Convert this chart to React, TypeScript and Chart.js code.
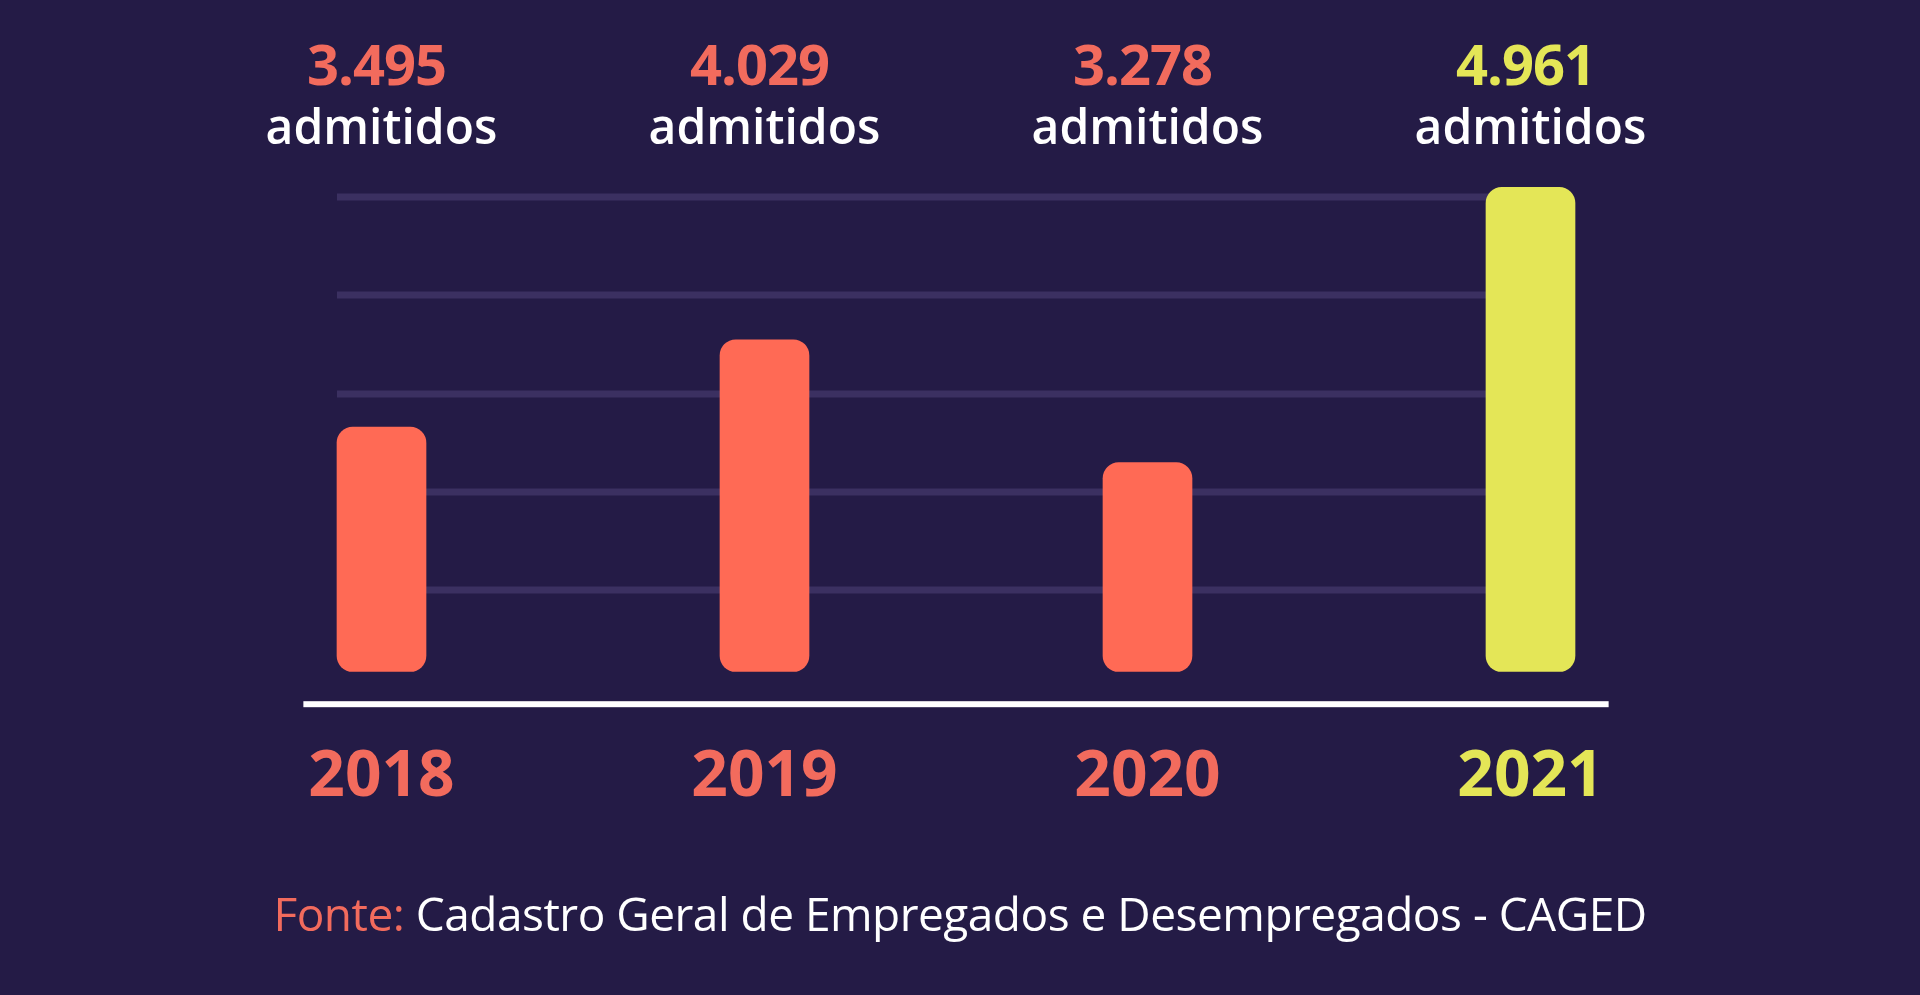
import { useEffect, useRef } from "react";
import { Chart, registerables } from "chart.js";

Chart.register(...registerables);

const years = ["2018", "2019", "2020", "2021"];
const admitidos = [3495, 4029, 3278, 4961];
const valueLabels = ["3.495", "4.029", "3.278", "4.961"];
const unitLabel = "admitidos";
const gridValues = [2500, 3100, 3700, 4300, 4900];
const sourcePrefix = "Fonte:";
const sourceText = " Cadastro Geral de Empregados e Desempregados - CAGED";

const BG = "#241b46";
const CORAL_BAR = "#ff6a55";
const CORAL_TEXT = "#f26b5d";
const YELLOW = "#e4e657";
const barColors = [CORAL_BAR, CORAL_BAR, CORAL_BAR, YELLOW];
const textColors = [CORAL_TEXT, CORAL_TEXT, CORAL_TEXT, YELLOW];
const FONT = "'Open Sans', 'DejaVu Sans', sans-serif";

export default function App() {
  const ref = useRef<HTMLCanvasElement | null>(null);

  useEffect(() => {
    const canvas = ref.current;
    if (!canvas) return;

    const bgPlugin = {
      id: "bg",
      beforeDraw(chart: any) {
        const { ctx, width, height } = chart;
        ctx.save();
        ctx.fillStyle = BG;
        ctx.fillRect(0, 0, width, height);
        ctx.restore();
      },
    };

    const gridPlugin = {
      id: "customGrid",
      beforeDatasetsDraw(chart: any) {
        const { ctx } = chart;
        const y = chart.scales.y;
        const meta = chart.getDatasetMeta(0);
        const first = meta.data[0];
        const last = meta.data[meta.data.length - 1];
        const x0 = first.x - first.width / 2;
        const x1 = last.x;
        ctx.save();
        ctx.strokeStyle = "rgba(120, 104, 170, 0.28)";
        ctx.lineWidth = 7;
        gridValues.forEach((v) => {
          const py = Math.round(y.getPixelForValue(v));
          ctx.beginPath();
          ctx.moveTo(x0, py);
          ctx.lineTo(x1, py);
          ctx.stroke();
        });
        ctx.restore();
      },
    };

    const axisPlugin = {
      id: "axisLine",
      afterDatasetsDraw(chart: any) {
        const { ctx, chartArea } = chart;
        const x = chart.scales.x;
        const cw = x.width / years.length;
        const x0 = x.getPixelForValue(0) - cw * 0.204;
        const x1 = x.getPixelForValue(years.length - 1) + cw * 0.204;
        ctx.save();
        ctx.fillStyle = "#ffffff";
        ctx.fillRect(x0, chartArea.bottom - 3, x1 - x0, 6);
        ctx.restore();
      },
    };

    const labelsPlugin = {
      id: "topLabels",
      afterDraw(chart: any) {
        const { ctx, chartArea } = chart;
        const x = chart.scales.x;
        ctx.save();
        ctx.textAlign = "center";
        ctx.textBaseline = "alphabetic";
        years.forEach((_, i) => {
          const cx = x.getPixelForValue(i);
          ctx.fillStyle = textColors[i];
          ctx.font = `700 56px ${FONT}`;
          (ctx as any).letterSpacing = "-1px";
          ctx.fillText(valueLabels[i], cx - 5, chartArea.top - 96);
          ctx.fillStyle = "#ffffff";
          ctx.font = `600 48px ${FONT}`;
          (ctx as any).letterSpacing = "0px";
          ctx.fillText(unitLabel, cx, chartArea.top - 37);
        });
        // source line
        (ctx as any).letterSpacing = "-0.5px";
        ctx.font = `400 46px ${FONT}`;
        const w1 = ctx.measureText(sourcePrefix).width;
        const w2 = ctx.measureText(sourceText).width;
        const total = w1 + w2;
        const start = chart.width / 2 - total / 2;
        const by = chartArea.bottom + 227;
        ctx.textAlign = "left";
        ctx.fillStyle = CORAL_TEXT;
        ctx.fillText(sourcePrefix, start, by);
        ctx.fillStyle = "#ffffff";
        ctx.fillText(sourceText, start + w1, by);
        ctx.restore();
      },
    };

    const chart = new Chart(canvas, {
      type: "bar",
      data: {
        labels: years,
        datasets: [
          {
            data: admitidos,
            backgroundColor: barColors,
            borderWidth: 0,
            borderRadius: 16,
            borderSkipped: false,
            barThickness: 89,
            base: 2000,
          } as any,
        ],
      },
      options: {
        responsive: false,
        animation: false,
        devicePixelRatio: 1,
        layout: { padding: { left: 190, right: 198, top: 181, bottom: 144 } },
        plugins: {
          legend: { display: false },
          tooltip: { enabled: false },
          title: { display: false },
        },
        scales: {
          x: {
            grid: { display: false, drawTicks: false },
            border: { display: false },
            ticks: {
              padding: 35,
              maxRotation: 0,
              autoSkip: false,
              font: { family: FONT, size: 64, weight: "bold" as any },
              color: (c: any) => textColors[c.index] ?? CORAL_TEXT,
            },
          },
          y: {
            display: false,
            min: 1800,
            max: 5000,
          },
        },
      },
      plugins: [bgPlugin, gridPlugin, axisPlugin, labelsPlugin],
    });

    return () => chart.destroy();
  }, []);

  return (
    <div style={{ position: "absolute", left: 0, top: 0, width: 1920, height: 995, background: BG }}>
      <canvas ref={ref} width={1920} height={995} style={{ display: "block" }} />
    </div>
  );
}
